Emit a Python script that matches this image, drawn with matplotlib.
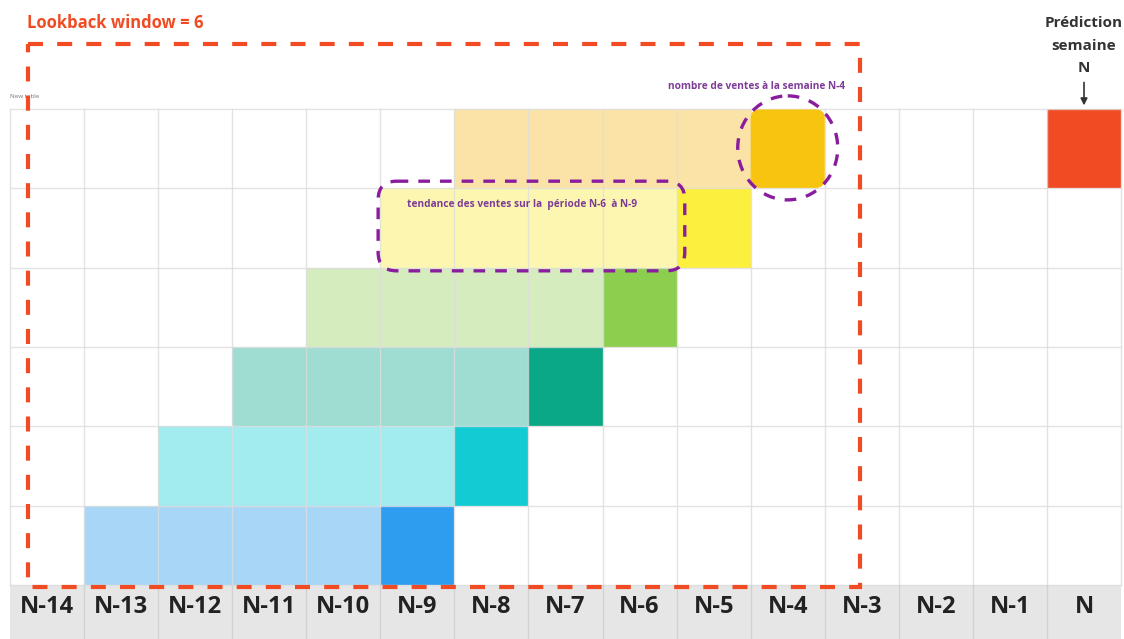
import matplotlib
matplotlib.use('Agg')
import matplotlib.pyplot as plt
from matplotlib.patches import Rectangle, FancyBboxPatch, Ellipse

# data
weeks = ['N-14', 'N-13', 'N-12', 'N-11', 'N-10', 'N-9', 'N-8', 'N-7',
         'N-6', 'N-5', 'N-4', 'N-3', 'N-2', 'N-1', 'N']
targets = ['N-4', 'N-5', 'N-6', 'N-7', 'N-8', 'N-9']
history_len = 4
lookback = 6
prediction = 'N'

title = 'Lookback window = {}'.format(lookback)
pred_label = 'Prédiction\nsemaine\nN'
note_target = 'nombre de ventes à la semaine N-4'
note_trend = 'tendance des ventes sur la  période N-6  à N-9'

# styles
light_colors = ['#fbe3a7', '#fdf6b0', '#d5ecbf', '#9fdcd2', '#a2ebee', '#a8d6f7']
dark_colors = ['#f7c510', '#fcef3e', '#8ccf4e', '#0aa887', '#13cbd3', '#2e9cef']
RED = '#f04b23'
PURPLE = '#8a1d9e'
GRID = '#dddddd'

plt.rcParams['font.family'] = ['Open Sans', 'DejaVu Sans']

# pixel geometry of the grid (used only for the axes limits)
W, H = 1124, 639
x0, cw = 10, 74.07
y0, rh = 109, 79.33

fig = plt.figure(figsize=(W / 100, H / 100), dpi=100)
ax = fig.add_axes([0, 0, 1, 1])
ax.set_xlim(-x0 / cw, (W - x0) / cw)
ax.set_ylim((H - y0) / rh, -y0 / rh)
ax.axis('off')

n_cols = len(weeks)
n_rows = len(targets)
label_h = (H - y0) / rh - n_rows

# colored cells
for r, tgt in enumerate(targets):
    c = weeks.index(tgt)
    for k in range(history_len):
        ax.add_patch(Rectangle((c - history_len + k, r), 1, 1,
                               facecolor=light_colors[r], edgecolor='none', zorder=1))
    if r == 0:
        ax.add_patch(FancyBboxPatch((c + 0.08, r + 0.08), 0.84, 0.84,
                                    boxstyle='round,pad=0.08,rounding_size=0.12',
                                    facecolor=dark_colors[r], edgecolor='none',
                                    zorder=3, mutation_aspect=cw / rh))
    else:
        ax.add_patch(Rectangle((c, r), 1, 1, facecolor=dark_colors[r],
                               edgecolor='none', zorder=1))

# prediction cell
pc = weeks.index(prediction)
ax.add_patch(Rectangle((pc, 0), 1, 1, facecolor=RED, edgecolor='none', zorder=1))

# grid lines
for r in range(n_rows + 1):
    ax.plot([0, n_cols], [r, r], color=GRID, lw=1, zorder=2, alpha=0.8)
for c in range(n_cols + 1):
    ax.plot([c, c], [0, n_rows], color=GRID, lw=1, zorder=2, alpha=0.8)

# label row
ax.add_patch(Rectangle((0, n_rows), n_cols, label_h, facecolor='#e6e6e6',
                       edgecolor='none', zorder=1))
for c in range(1, n_cols):
    ax.plot([c, c], [n_rows, n_rows + label_h], color='#d2d2d2', lw=1, zorder=2)
for c, w in enumerate(weeks):
    ax.text(c + 0.5, n_rows + 0.28, w, ha='center', va='center', fontsize=17,
            fontweight='bold', color='#222222', zorder=5)

# trend box (purple dashed, rounded)
tc = weeks.index(targets[1])
bx0, bx1 = tc - history_len - 0.03, tc + 0.11
by0, by1 = 0.91, 2.04
ax.add_patch(FancyBboxPatch((bx0, by0), bx1 - bx0, by1 - by0,
                            boxstyle='round,pad=0,rounding_size=0.25',
                            mutation_aspect=cw / rh,
                            facecolor='none', edgecolor=PURPLE, lw=2.4,
                            linestyle=(0, (3.5, 3)), zorder=4))
ax.text(bx0 + 0.39, by0 + 0.29, note_trend, ha='left', va='center', fontsize=7.3,
        fontweight='bold', color='#7d3c98', zorder=5)

# target circle
cc = weeks.index(targets[0])
ax.add_patch(Ellipse((cc + 0.5, 0.49), 100 / cw, 104 / rh, facecolor='none',
                     edgecolor=PURPLE, lw=2.4, linestyle=(0, (3.5, 3)), zorder=4))
ax.text(cc + 0.08, -0.28, note_target, ha='center', va='center', fontsize=7.3,
        fontweight='bold', color='#7d3c98', zorder=5)

# lookback window box
lx0, lx1 = 18 / cw, (860 - x0) / cw
ly0, ly1 = (44 - y0) / rh, (587 - y0) / rh
ax.add_patch(Rectangle((lx0, ly0), lx1 - lx0, ly1 - ly0, facecolor='none',
                       edgecolor=RED, lw=3, linestyle=(0, (3.6, 3.4)), zorder=6))
ax.text(lx0 - 0.02, -1.085, title, ha='left', va='center', fontsize=12,
        fontweight='bold', color=RED)
ax.text(0, -0.16, 'New table', ha='left', va='center', fontsize=4.5, color='#777777')

# prediction label + arrow
ax.text(pc + 0.5, -0.80, pred_label, ha='center', va='center', fontsize=11,
        fontweight='bold', color='#333333', linespacing=1.75)
ax.annotate('', xy=(pc + 0.5, -0.01), xytext=(pc + 0.5, -0.37),
            arrowprops=dict(arrowstyle='-|>', color='#333333', lw=1.2,
                            mutation_scale=10))

fig.savefig('out.png', dpi=100)
